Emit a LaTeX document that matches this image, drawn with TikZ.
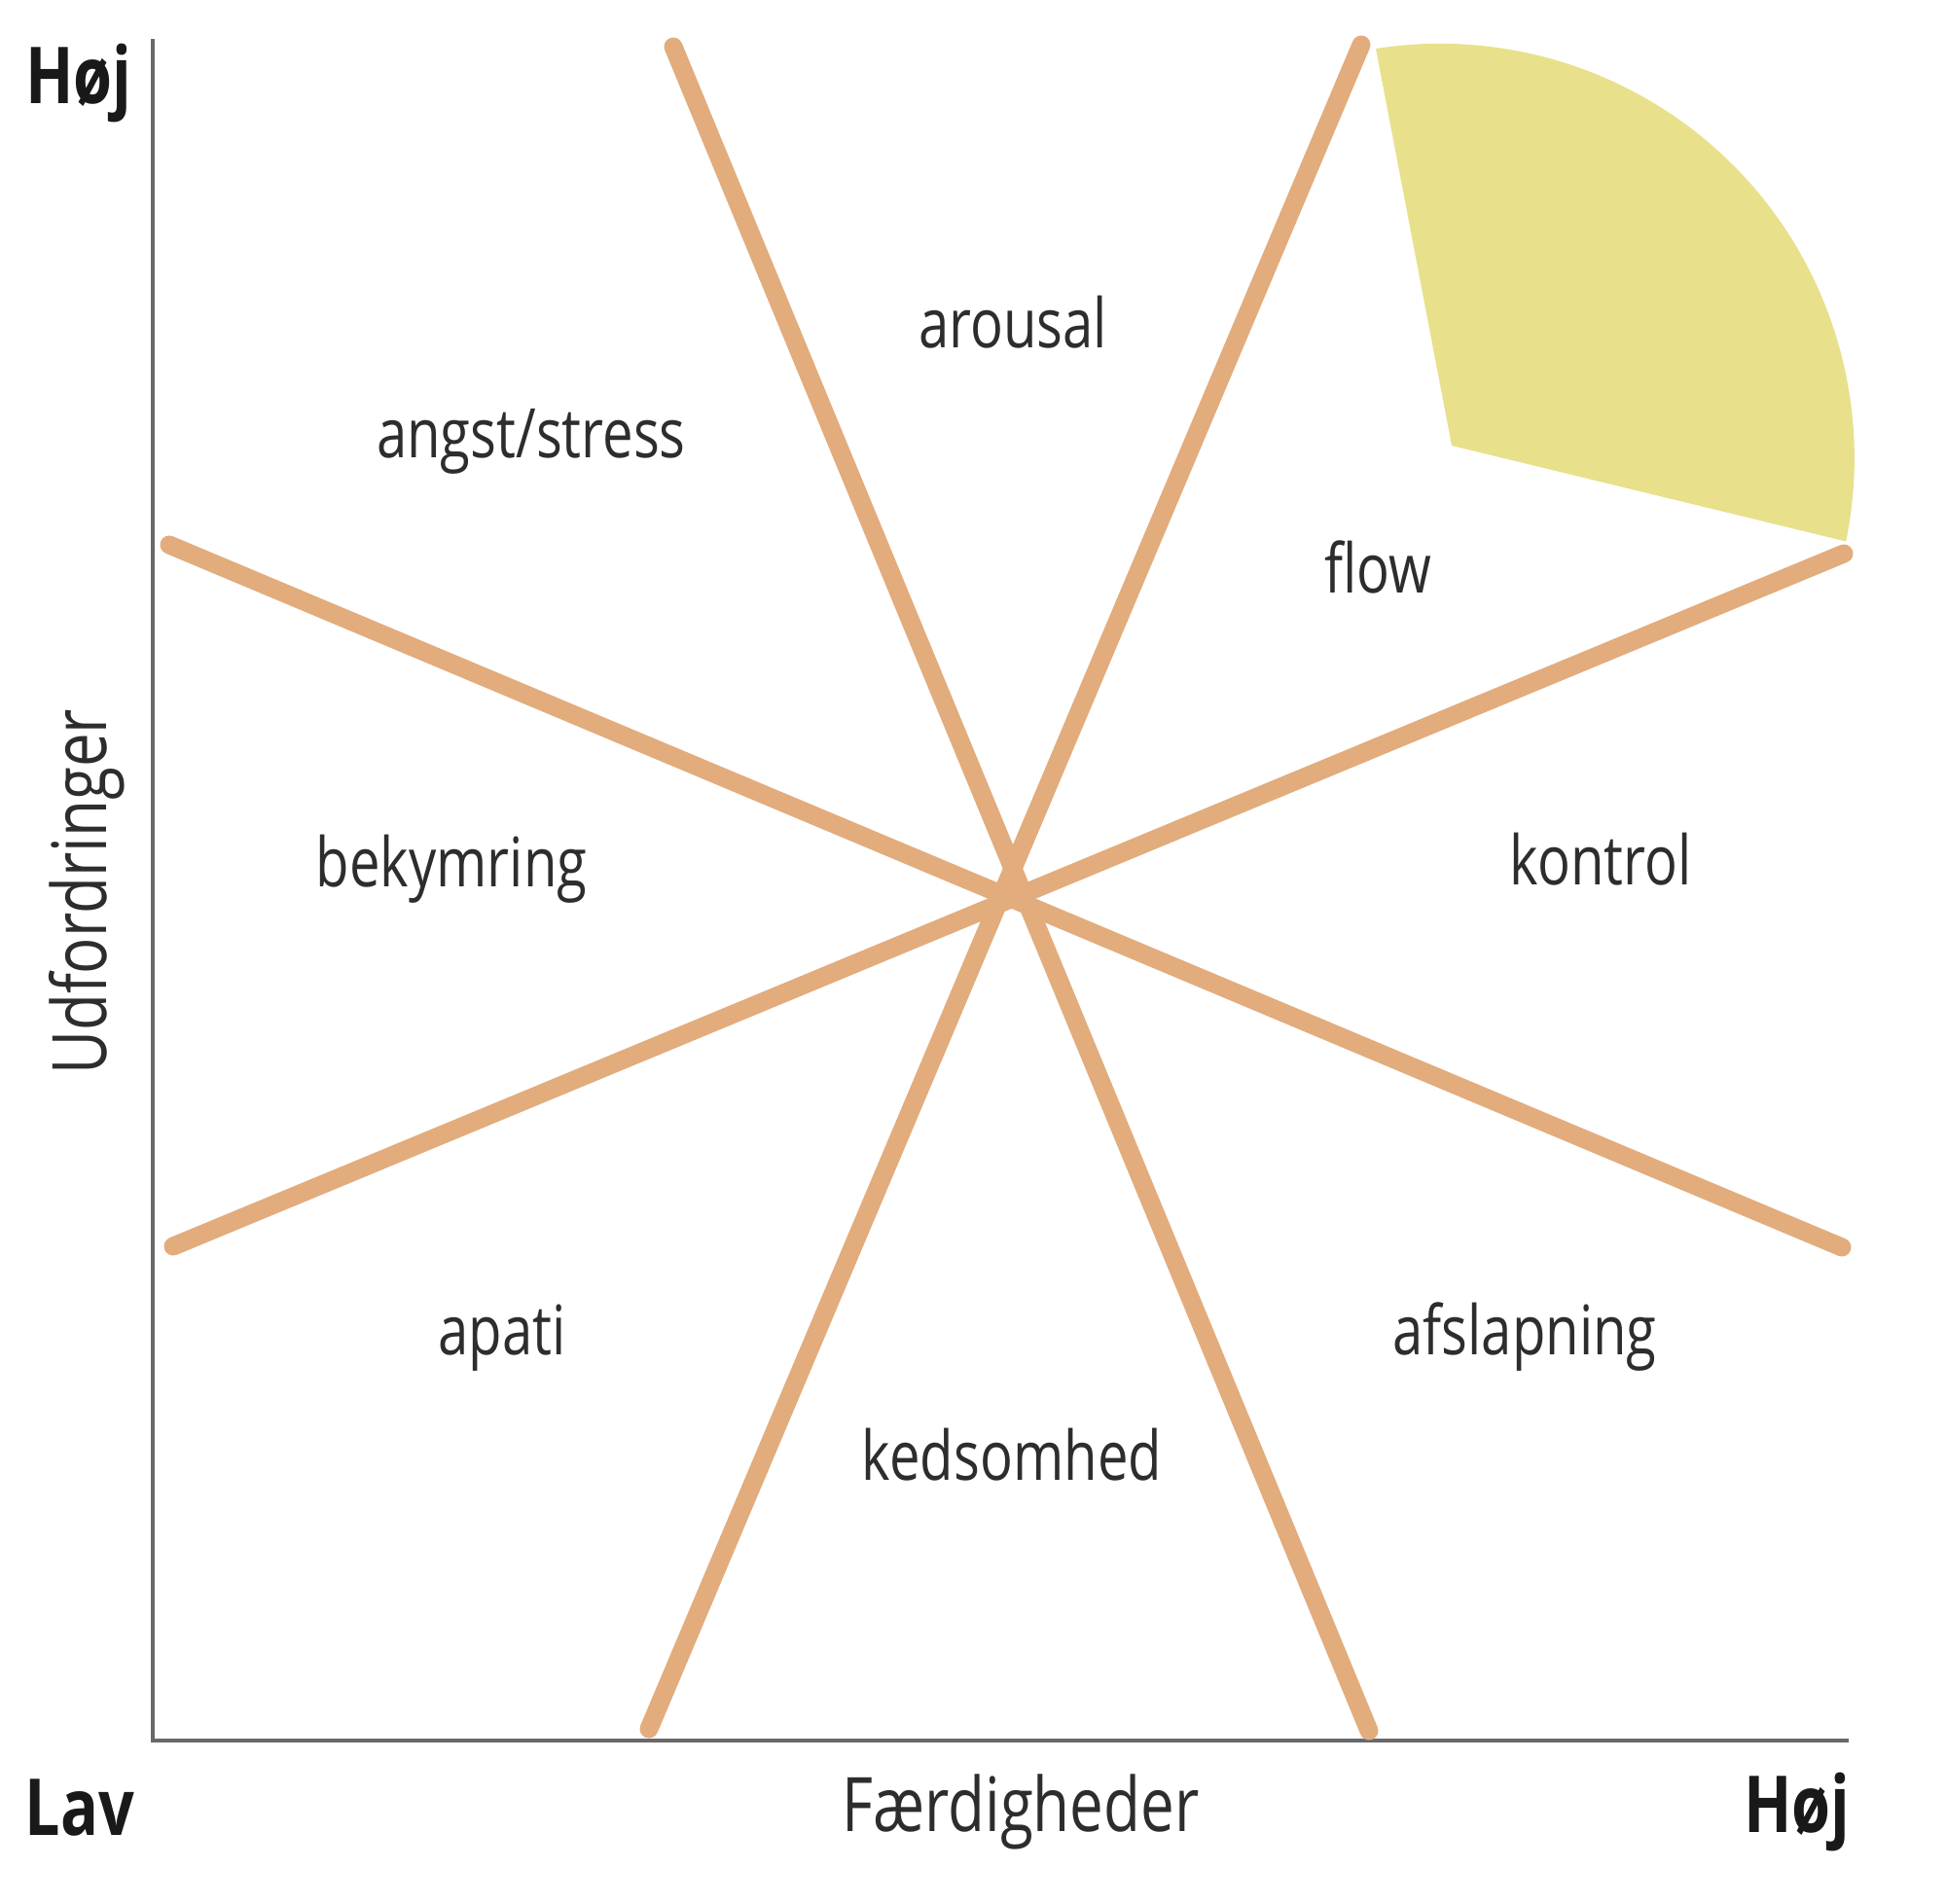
\documentclass[tikz,border=0pt]{standalone}
\usepackage{fontspec}
\setmainfont{Open Sans}[FakeStretch=0.8]
\usepackage{tikz}
\definecolor{flowyellow}{RGB}{232,224,139}
\definecolor{zoneorange}{RGB}{226,172,125}
\definecolor{axisgray}{RGB}{105,105,105}
\definecolor{labelgray}{RGB}{45,45,45}

\begin{document}
\begin{tikzpicture}[
        label/.style={anchor=base, text=labelgray, font=\fontsize{20}{24}\selectfont},
        axistitle/.style={anchor=base, text=labelgray, font=\fontsize{22}{26}\selectfont},
        axisend/.style={anchor=base, text=black!90, font=\fontsize{23}{27}\selectfont\bfseries}
    ]
        \useasboundingbox (0,0) rectangle (20,19.56);
        % flow zone
        \fill[flowyellow] (14.92,14.98) -- (14.14,19.06) arc[start angle=98.9, end angle=-11.6, radius=4.26] -- cycle;
        % axes
        \coordinate (origin) at (1.57,1.67);
        \coordinate (ytop) at (1.57,19.16);
        \coordinate (xend) at (19.00,1.67);
        \draw[axisgray, line width=0.035cm] (ytop) -- (origin) -- (xend);
        % zone borders
        \coordinate (a1) at (6.92,19.08);  \coordinate (a2) at (14.07,1.77);
        \coordinate (b1) at (13.99,19.10); \coordinate (b2) at (6.67,1.79);
        \coordinate (c1) at (1.74,13.96);  \coordinate (c2) at (18.93,6.74);
        \coordinate (d1) at (1.78,6.75);   \coordinate (d2) at (18.95,13.87);
        \foreach \p in {a,b,c,d}{
            \draw[zoneorange, line width=0.19cm, line cap=round] (\p1) -- (\p2);
        }
        % zone names
        \foreach \name/\pos/\txt in {arousal/{10.41,15.98}/arousal, angst/{5.46,14.85}/{angst/stress},
                flow/{14.16,13.46}/flow, bekymring/{4.64,10.44}/bekymring, kontrol/{16.45,10.46}/kontrol,
                apati/{5.16,5.64}/apati, afslapning/{15.67,5.64}/afslapning, kedsomhed/{10.40,4.35}/kedsomhed}{
            \node[label] (\name) at (\pos) {\txt};
        }
        % axis labels
        \node[axisend] (hojy) at (0.81,18.49) {Høj};
        \node[axisend] (lav) at (0.82,0.70) {Lav};
        \node[axisend] (hojx) at (18.47,0.73) {Høj};
        \node[axistitle] (skills) at (10.49,0.74) {Færdigheder};
        \node[axistitle, rotate=90] (challenges) at (1.10,10.39) {Udfordringer};
\end{tikzpicture}
\end{document}
